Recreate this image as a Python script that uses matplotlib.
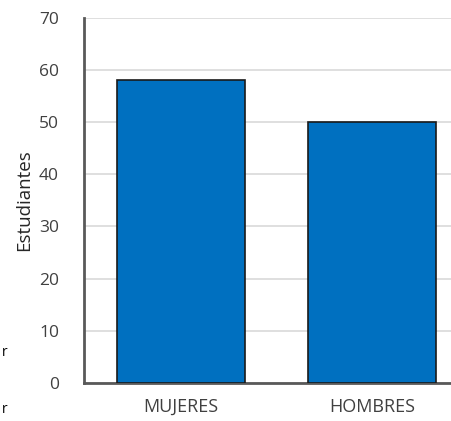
import matplotlib.pyplot as plt

categories = ["MUJERES", "HOMBRES"]
values = [58, 50]
yticks = [0, 10, 20, 30, 40, 50, 60, 70]

plt.rcParams['font.family'] = ['Open Sans', 'DejaVu Sans']

fig = plt.figure(figsize=(4.52, 4.21), dpi=100)
ax = fig.add_axes([0.186, 0.0903, 0.814, 0.868])

x = range(len(categories))
ax.bar(x, values, width=0.67, color='#0070C0', edgecolor='#1a1a1a', linewidth=1.2, zorder=3)

ax.set_xlim(-0.51, 1.42)
ax.set_ylim(0, 70)
ax.set_yticks(yticks)
ax.set_xticks(list(x))
ax.set_xticklabels(categories)
ax.yaxis.grid(True, color='#d9d9d9', linewidth=1.2, zorder=0)
ax.set_axisbelow(True)

for s in ['top', 'right']:
    ax.spines[s].set_visible(False)
for s in ['left', 'bottom']:
    ax.spines[s].set_color('#595959')
    ax.spines[s].set_linewidth(2)

ax.tick_params(length=0, labelsize=12.5, labelcolor='#404040')
ax.tick_params(axis='x', labelsize=13, pad=11)
ax.tick_params(axis='y', pad=18)
ax.set_ylabel("Estudiantes", fontsize=13.5, color='#262626', labelpad=4)

# stray fragments at left margin
fig.text(0.004, 0.155, "r", fontsize=10, color='black')
fig.text(0.004, 0.018, "r", fontsize=10, color='black')

plt.savefig('out.png', dpi=100)
